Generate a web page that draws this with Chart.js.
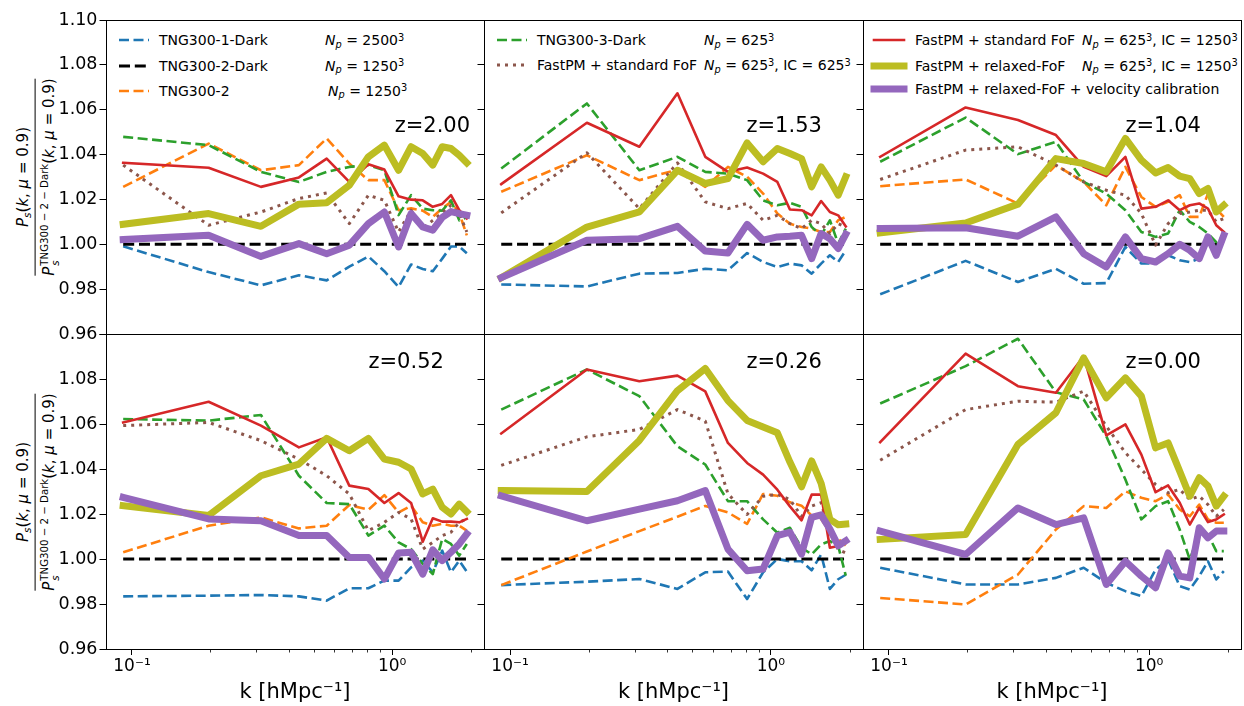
<!DOCTYPE html>
<html>
<head>
<meta charset="utf-8">
<script src="https://cdn.jsdelivr.net/npm/chart.js@4/dist/chart.umd.min.js"></script>
<style>
  html, body { margin: 0; padding: 0; background: #fff; overflow: hidden; }
  body { width: 1244px; height: 706px; position: relative; font-family: "DejaVu Sans", sans-serif; color: #000; }
  canvas.panel { position: absolute; left: 0; top: 0; pointer-events: none; }
  .lg { position: absolute; font-size: 14px; line-height: 14px; white-space: nowrap; }
  .ls { position: absolute; overflow: visible; }
  .sb { font-size: 0.7em; position: relative; top: 0.28em; }
  .sp { font-size: 0.7em; position: relative; top: -0.45em; }
  .zl { position: absolute; font-size: 21px; line-height: 21px; white-space: nowrap; }
  .ylab { position: absolute; transform: translate(-50%, -50%) rotate(-90deg); font-size: 15px; white-space: nowrap; }
  .frac { display: flex; flex-direction: column; align-items: center; }
  .num { padding-bottom: 2px; line-height: 17px; }
  .den { border-top: 1.4px solid #000; padding-top: 1px; line-height: 24px; }
  .ss { display: inline-flex; flex-direction: column; vertical-align: 0.55em; font-size: 0.68em; line-height: 1.05em; margin-left: 1px; }
</style>
</head>
<body>

<!-- legends -->
<svg class="ls" style="left:114px;top:34px" width="40" height="12"><line x1="5" y1="6" x2="35" y2="6" stroke="#1f77b4" stroke-width="2.6" stroke-dasharray="10 4.5"/></svg>
<div class="lg" style="left:159px;top:33px">TNG300-1-Dark</div>
<div class="lg" style="left:325px;top:33px"><i>N</i><span class="sb"><i>p</i></span> = 2500<span class="sp">3</span></div>
<svg class="ls" style="left:114px;top:59.5px" width="40" height="12"><line x1="5" y1="6" x2="35" y2="6" stroke="#000" stroke-width="3" stroke-dasharray="11 4.8"/></svg>
<div class="lg" style="left:159px;top:58.5px">TNG300-2-Dark</div>
<div class="lg" style="left:325px;top:58.5px"><i>N</i><span class="sb"><i>p</i></span> = 1250<span class="sp">3</span></div>
<svg class="ls" style="left:114px;top:84.5px" width="40" height="12"><line x1="5" y1="6" x2="35" y2="6" stroke="#ff7f0e" stroke-width="2.6" stroke-dasharray="10 4.5"/></svg>
<div class="lg" style="left:159px;top:83.5px">TNG300-2</div>
<div class="lg" style="left:328px;top:83.5px"><i>N</i><span class="sb"><i>p</i></span> = 1250<span class="sp">3</span></div>

<svg class="ls" style="left:492px;top:34px" width="40" height="12"><line x1="5" y1="6" x2="35" y2="6" stroke="#2ca02c" stroke-width="2.6" stroke-dasharray="10 4.5"/></svg>
<div class="lg" style="left:537px;top:33px">TNG300-3-Dark</div>
<div class="lg" style="left:704px;top:33px"><i>N</i><span class="sb"><i>p</i></span> = 625<span class="sp">3</span></div>
<svg class="ls" style="left:492px;top:59px" width="40" height="12"><line x1="5" y1="6" x2="35" y2="6" stroke="#8c564b" stroke-width="3" stroke-dasharray="3 5"/></svg>
<div class="lg" style="left:537px;top:58px">FastPM + standard FoF</div>
<div class="lg" style="left:704px;top:58px"><i>N</i><span class="sb"><i>p</i></span> = 625<span class="sp">3</span>, IC = 625<span class="sp">3</span></div>

<svg class="ls" style="left:869px;top:34px" width="40" height="12"><line x1="5" y1="6" x2="35" y2="6" stroke="#d62728" stroke-width="2.6" stroke-linecap="square"/></svg>
<div class="lg" style="left:915px;top:33px">FastPM + standard FoF</div>
<div class="lg" style="left:1082px;top:33px"><i>N</i><span class="sb"><i>p</i></span> = 625<span class="sp">3</span>, IC = 1250<span class="sp">3</span></div>
<svg class="ls" style="left:869px;top:59.5px" width="40" height="12"><line x1="5" y1="6" x2="35" y2="6" stroke="#bcbd22" stroke-width="7" stroke-linecap="square"/></svg>
<div class="lg" style="left:915px;top:58.5px">FastPM + relaxed-FoF</div>
<div class="lg" style="left:1082px;top:58.5px"><i>N</i><span class="sb"><i>p</i></span> = 625<span class="sp">3</span>, IC = 1250<span class="sp">3</span></div>
<svg class="ls" style="left:869px;top:83px" width="40" height="12"><line x1="5" y1="6" x2="35" y2="6" stroke="#9467bd" stroke-width="7" stroke-linecap="square"/></svg>
<div class="lg" style="left:915px;top:82px">FastPM + relaxed-FoF + velocity calibration</div>

<!-- y-axis titles -->
<div class="ylab" style="left:38px;top:177px">
  <div class="frac">
    <div class="num"><i>P</i><span class="sb"><i>s</i></span>(<i>k</i>, <i>μ</i> = 0.9)</div>
    <div class="den"><i>P</i><span class="ss"><span>TNG300 − 2 − Dark</span><span><i>s</i></span></span>(<i>k</i>, <i>μ</i> = 0.9)</div>
  </div>
</div>
<div class="ylab" style="left:38px;top:492px">
  <div class="frac">
    <div class="num"><i>P</i><span class="sb"><i>s</i></span>(<i>k</i>, <i>μ</i> = 0.9)</div>
    <div class="den"><i>P</i><span class="ss"><span>TNG300 − 2 − Dark</span><span><i>s</i></span></span>(<i>k</i>, <i>μ</i> = 0.9)</div>
  </div>
</div>

<script>
// wavenumber bins [h/Mpc]
const kBins = [0.0925, 0.197, 0.313, 0.438, 0.560, 0.684, 0.810, 0.933, 1.058, 1.182, 1.310, 1.432, 1.557, 1.682, 1.810, 1.935];
const yTickValues = [0.96, 0.98, 1.00, 1.02, 1.04, 1.06, 1.08, 1.10];
const xMajorTicks = [0.1, 1];
const xMinorTicks = [0.2, 0.3, 0.4, 0.5, 0.6, 0.7, 0.8, 0.9, 2];
const redshiftLabels = ['z=2.00', 'z=1.53', 'z=1.04', 'z=0.52', 'z=0.26', 'z=0.00'];

// TNG300-2-Dark divided by itself
const referenceRatio = [1, 1, 1, 1, 1, 1, 1, 1, 1, 1, 1, 1, 1, 1, 1, 1];

// z = 2.00
const tng1Dark_z200 = [0.9991, 0.9876, 0.9817, 0.9862, 0.9839, 0.9900, 0.9946, 0.9880, 0.9810, 0.9910, 0.9890, 0.9880, 0.9936, 0.9990, 0.9990, 0.9960];
const tng2_z200     = [1.0256, 1.0449, 1.0330, 1.0353, 1.0472, 1.0360, 1.0286, 1.0286, 1.0152, 1.0160, 1.0150, 1.0122, 1.0160, 1.0189, 1.0140, 1.0040];
const tng3Dark_z200 = [1.0479, 1.0442, 1.0323, 1.0278, 1.0323, 1.0345, 1.0353, 1.0330, 1.0130, 1.0219, 1.0159, 1.0152, 1.0150, 1.0196, 1.0107, 1.0120];
const fofIC625_z200 = [1.0353, 1.0085, 1.0144, 1.0204, 1.0229, 1.0092, 1.0219, 1.0196, 1.0055, 1.0152, 1.0070, 1.0107, 1.0140, 1.0174, 1.0137, 1.0055];
const fofIC1250_z200 = [1.0363, 1.0341, 1.0256, 1.0298, 1.0382, 1.0278, 1.0357, 1.0333, 1.0214, 1.0199, 1.0196, 1.0167, 1.0180, 1.0219, 1.0152, 1.0115];
const relaxed_z200  = [1.0089, 1.0137, 1.0080, 1.0179, 1.0185, 1.0263, 1.0390, 1.0442, 1.0330, 1.0435, 1.0405, 1.0353, 1.0435, 1.0427, 1.0397, 1.0363];
const velcal_z200   = [1.0021, 1.0040, 0.9946, 1.0003, 0.9958, 0.9996, 1.0092, 1.0144, 0.9988, 1.0137, 1.0077, 1.0063, 1.0120, 1.0146, 1.0137, 1.0130];

// z = 1.53
const tng1Dark_z153 = [0.9821, 0.9812, 0.9869, 0.9872, 0.9891, 0.9884, 0.9961, 0.9921, 0.9899, 0.9914, 0.9906, 0.9869, 0.9914, 0.9951, 0.9921, 0.9973];
const tng2_z153     = [1.0234, 1.0397, 1.0286, 1.0333, 1.0256, 1.0345, 1.0301, 1.0226, 1.0137, 1.0092, 1.0077, 1.0070, 1.0055, 1.0055, 1.0107, 1.0122];
const tng3Dark_z153 = [1.0338, 1.0628, 1.0330, 1.0390, 1.0323, 1.0315, 1.0286, 1.0196, 1.0174, 1.0185, 1.0167, 1.0077, 1.0040, 1.0107, 1.0003, 1.0070];
const fofIC625_z153 = [1.0140, 1.0408, 1.0159, 1.0363, 1.0189, 1.0159, 1.0182, 1.0107, 1.0129, 1.0092, 1.0070, 1.0107, 1.0092, 1.0048, 1.0092, 1.0077];
const fofIC1250_z153 = [1.0268, 1.0542, 1.0435, 1.0673, 1.0390, 1.0323, 1.0342, 1.0315, 1.0278, 1.0155, 1.0152, 1.0129, 1.0193, 1.0144, 1.0129, 1.0080];
const relaxed_z153  = [0.9851, 1.0077, 1.0144, 1.0330, 1.0271, 1.0293, 1.0452, 1.0368, 1.0427, 1.0405, 1.0382, 1.0256, 1.0345, 1.0286, 1.0219, 1.0301];
const velcal_z153   = [0.9851, 1.0018, 1.0025, 1.0080, 0.9970, 0.9961, 1.0089, 1.0018, 1.0033, 1.0036, 1.0040, 0.9936, 1.0048, 1.0025, 0.9981, 1.0045];

// z = 1.04
const tng1Dark_z104 = [0.9777, 0.9926, 0.9832, 0.9891, 0.9824, 0.9827, 0.9988, 0.9914, 0.9914, 0.9951, 0.9929, 0.9921, 0.9936, 1.0033, 0.9988, 1.0033];
const tng2_z104     = [1.0259, 1.0289, 1.0182, 1.0353, 1.0278, 1.0174, 1.0345, 1.0211, 1.0167, 1.0189, 1.0219, 1.0122, 1.0122, 1.0226, 1.0159, 1.0122];
const tng3Dark_z104 = [1.0368, 1.0565, 1.0402, 1.0457, 1.0278, 1.0226, 1.0152, 1.0055, 1.0033, 1.0048, 1.0152, 1.0100, 1.0077, 1.0048, 1.0010, 1.0040];
const fofIC625_z104 = [1.0289, 1.0420, 1.0435, 1.0353, 1.0278, 1.0241, 1.0219, 1.0137, 0.9996, 1.0092, 1.0137, 1.0144, 1.0152, 1.0152, 1.0100, 1.0115];
const fofIC1250_z104 = [1.0390, 1.0610, 1.0554, 1.0487, 1.0345, 1.0304, 1.0390, 1.0159, 1.0167, 1.0196, 1.0152, 1.0174, 1.0182, 1.0159, 1.0085, 1.0055];
const relaxed_z104  = [1.0051, 1.0095, 1.0179, 1.0382, 1.0360, 1.0323, 1.0472, 1.0375, 1.0318, 1.0342, 1.0304, 1.0293, 1.0226, 1.0249, 1.0144, 1.0174];
const velcal_z104   = [1.0070, 1.0074, 1.0036, 1.0122, 0.9958, 0.9899, 1.0033, 0.9936, 0.9921, 0.9958, 1.0000, 0.9973, 0.9936, 1.0033, 0.9951, 1.0040];

// z = 0.52
const tng1Dark_z052 = [0.9834, 0.9837, 0.9840, 0.9834, 0.9815, 0.9870, 0.9870, 0.9904, 0.9904, 0.9963, 0.9993, 0.9941, 1.0037, 0.9941, 0.9993, 0.9944];
const tng2_z052     = [1.0030, 1.0148, 1.0185, 1.0136, 1.0148, 1.0240, 1.0219, 1.0284, 1.0207, 1.0237, 1.0163, 1.0148, 1.0156, 1.0148, 1.0148, 1.0126];
const tng3Dark_z052 = [1.0622, 1.0615, 1.0640, 1.0370, 1.0249, 1.0244, 1.0104, 1.0148, 1.0074, 1.0044, 0.9978, 0.9933, 1.0089, 1.0067, 1.0015, 1.0067];
const fofIC625_z052 = [1.0593, 1.0607, 1.0526, 1.0444, 1.0370, 1.0289, 1.0126, 1.0163, 1.0207, 1.0178, 1.0044, 1.0074, 1.0104, 1.0119, 1.0163, 1.0178];
const fofIC1250_z052 = [1.0607, 1.0699, 1.0593, 1.0496, 1.0541, 1.0326, 1.0311, 1.0249, 1.0293, 1.0249, 1.0077, 1.0181, 1.0166, 1.0166, 1.0163, 1.0178];
const relaxed_z052  = [1.0237, 1.0193, 1.0370, 1.0422, 1.0536, 1.0481, 1.0536, 1.0444, 1.0430, 1.0400, 1.0289, 1.0311, 1.0230, 1.0200, 1.0244, 1.0210];
const velcal_z052   = [1.0274, 1.0178, 1.0170, 1.0104, 1.0104, 1.0007, 1.0007, 0.9911, 1.0027, 1.0030, 0.9933, 1.0041, 0.9993, 1.0030, 1.0067, 1.0111];

// z = 0.26
const tng1Dark_z026 = [0.9884, 0.9899, 0.9911, 0.9867, 0.9941, 0.9944, 0.9822, 0.9941, 1.0000, 0.9990, 0.9990, 0.9950, 1.0020, 0.9867, 0.9910, 0.9930];
const tng2_z026     = [0.9884, 1.0033, 1.0124, 1.0188, 1.0236, 1.0207, 1.0156, 1.0289, 1.0281, 1.0252, 1.0237, 1.0193, 1.0178, 1.0119, 1.0089, 1.0060];
const tng3Dark_z026 = [1.0664, 1.0842, 1.0724, 1.0501, 1.0420, 1.0257, 1.0257, 1.0176, 1.0117, 1.0139, 1.0050, 1.0021, 1.0065, 1.0080, 1.0058, 0.9926];
const fofIC625_z026 = [1.0416, 1.0543, 1.0576, 1.0664, 1.0613, 1.0290, 1.0198, 1.0279, 1.0287, 1.0264, 1.0190, 1.0235, 1.0250, 1.0116, 1.0042, 1.0027];
const fofIC1250_z026 = [1.0558, 1.0842, 1.0790, 1.0815, 1.0745, 1.0516, 1.0427, 1.0375, 1.0308, 1.0234, 1.0172, 1.0286, 1.0286, 1.0050, 1.0058, 1.0080];
const relaxed_z026  = [1.0304, 1.0300, 1.0527, 1.0748, 1.0847, 1.0704, 1.0616, 1.0587, 1.0561, 1.0431, 1.0321, 1.0436, 1.0336, 1.0176, 1.0152, 1.0155];
const velcal_z026   = [1.0281, 1.0170, 1.0222, 1.0259, 1.0304, 1.0044, 0.9948, 0.9956, 1.0104, 1.0119, 1.0022, 1.0185, 1.0196, 1.0133, 1.0059, 1.0081];

// z = 0.00
const tng1Dark_z000 = [0.9961, 0.9887, 0.9887, 0.9916, 0.9961, 0.9894, 0.9857, 0.9835, 0.9953, 0.9998, 0.9879, 0.9864, 0.9924, 0.9990, 0.9909, 0.9946];
const tng2_z000     = [0.9827, 0.9798, 0.9931, 1.0131, 1.0235, 1.0227, 1.0301, 1.0272, 1.0257, 1.0287, 1.0220, 1.0190, 1.0242, 1.0176, 1.0161, 1.0161];
const tng3Dark_z000 = [1.0691, 1.0857, 1.0979, 1.0741, 1.0709, 1.0546, 1.0353, 1.0176, 1.0235, 1.0257, 1.0131, 0.9998, 1.0116, 1.0110, 1.0035, 1.0035];
const fofIC625_z000 = [1.0439, 1.0664, 1.0701, 1.0697, 1.0746, 1.0590, 1.0472, 1.0398, 1.0331, 1.0294, 1.0309, 1.0264, 1.0279, 1.0242, 1.0190, 1.0220];
const fofIC1250_z000 = [1.0519, 1.0913, 1.0768, 1.0739, 1.0901, 1.0549, 1.0598, 1.0464, 1.0297, 1.0327, 1.0250, 1.0153, 1.0227, 1.0164, 1.0176, 1.0198];
const relaxed_z000  = [1.0087, 1.0109, 1.0509, 1.0650, 1.0894, 1.0716, 1.0805, 1.0724, 1.0494, 1.0516, 1.0390, 1.0279, 1.0361, 1.0324, 1.0235, 1.0279];
const velcal_z000   = [1.0124, 1.0020, 1.0227, 1.0153, 1.0183, 0.9887, 0.9990, 0.9924, 0.9872, 1.0027, 0.9924, 0.9916, 1.0139, 1.0094, 1.0124, 1.0124];

// line styles, in drawing order (last one on top)
const seriesStyles = [
  { name: 'TNG300-1-Dark', color: '#1f77b4', width: 2.6, dash: [10, 4.5], cap: 'butt' },
  { name: 'TNG300-2-Dark', color: '#000000', width: 3, dash: [11, 4.8], cap: 'butt' },
  { name: 'TNG300-2', color: '#ff7f0e', width: 2.6, dash: [10, 4.5], cap: 'butt' },
  { name: 'TNG300-3-Dark', color: '#2ca02c', width: 2.6, dash: [10, 4.5], cap: 'butt' },
  { name: 'FastPM + standard FoF, IC 625^3', color: '#8c564b', width: 3, dash: [3, 5], cap: 'butt' },
  { name: 'FastPM + standard FoF, IC 1250^3', color: '#d62728', width: 2.6, dash: [], cap: 'square' },
  { name: 'FastPM + relaxed-FoF', color: '#bcbd22', width: 7, dash: [], cap: 'square' },
  { name: 'FastPM + relaxed-FoF + velocity calibration', color: '#9467bd', width: 7, dash: [], cap: 'square' }
];

const panelSeries = [
  [tng1Dark_z200, referenceRatio, tng2_z200, tng3Dark_z200, fofIC625_z200, fofIC1250_z200, relaxed_z200, velcal_z200],
  [tng1Dark_z153, referenceRatio, tng2_z153, tng3Dark_z153, fofIC625_z153, fofIC1250_z153, relaxed_z153, velcal_z153],
  [tng1Dark_z104, referenceRatio, tng2_z104, tng3Dark_z104, fofIC625_z104, fofIC1250_z104, relaxed_z104, velcal_z104],
  [tng1Dark_z052, referenceRatio, tng2_z052, tng3Dark_z052, fofIC625_z052, fofIC1250_z052, relaxed_z052, velcal_z052],
  [tng1Dark_z026, referenceRatio, tng2_z026, tng3Dark_z026, fofIC625_z026, fofIC1250_z026, relaxed_z026, velcal_z026],
  [tng1Dark_z000, referenceRatio, tng2_z000, tng3Dark_z000, fofIC625_z000, fofIC1250_z000, relaxed_z000, velcal_z000]
];

// panel grid geometry (plot-area edges in page pixels)
const colEdges = [106, 484, 863, 1241];
const rowEdges = [20, 334, 649];
const X_MIN = 0.07945, X_MAX = 2.253;
const Y_MIN = 0.96, Y_MAX = 1.10;
const CANVAS_W = 1300, CANVAS_H = 760;
const Y_AXIS_W = 70, X_AXIS_H = 56;
const FONT = 'DejaVu Sans';

// box around each plot area, plus short minor ticks on the k axis
const framePlugin = {
  id: 'frame',
  afterDraw(chart, args, opts) {
    const { ctx, chartArea: a } = chart;
    ctx.save();
    ctx.strokeStyle = '#000';
    ctx.lineWidth = 1;
    ctx.strokeRect(Math.round(a.left) + 0.5, Math.round(a.top) + 0.5,
      Math.round(a.right - a.left), Math.round(a.bottom - a.top));
    if (opts.minorTicks) {
      const xs = chart.scales.x;
      ctx.lineWidth = 0.8;
      ctx.beginPath();
      xMinorTicks.forEach(v => {
        const px = Math.round(xs.getPixelForValue(v)) + 0.5;
        ctx.moveTo(px, a.bottom);
        ctx.lineTo(px, a.bottom + 3.5);
      });
      ctx.stroke();
    }
    ctx.restore();
  }
};

function buildPanel(index) {
  const row = Math.floor(index / 3), col = index % 3;
  const L = colEdges[col], R = colEdges[col + 1];
  const T = rowEdges[row], B = rowEdges[row + 1];
  const bottomRow = row === 1;
  const xh = bottomRow ? X_AXIS_H : 0;

  const canvas = document.createElement('canvas');
  canvas.className = 'panel';
  canvas.width = CANVAS_W; canvas.height = CANVAS_H;
  canvas.style.width = CANVAS_W + 'px'; canvas.style.height = CANVAS_H + 'px';
  document.body.appendChild(canvas);

  const values = panelSeries[index];
  const n = seriesStyles.length;
  const datasets = seriesStyles.map((s, i) => ({
    label: s.name,
    data: kBins.map((k, j) => ({ x: k, y: values[i][j] })),
    borderColor: s.color,
    backgroundColor: s.color,
    borderWidth: s.width,
    borderDash: s.dash,
    borderCapStyle: s.cap,
    borderJoinStyle: 'round',
    pointRadius: 0,
    tension: 0,
    fill: false,
    order: n - i
  }));

  new Chart(canvas, {
    type: 'line',
    data: { datasets },
    options: {
      responsive: false,
      animation: false,
      devicePixelRatio: 1,
      events: [],
      layout: { padding: { left: L - Y_AXIS_W, top: T, right: CANVAS_W - R, bottom: CANVAS_H - B - xh } },
      plugins: { legend: { display: false }, tooltip: { enabled: false }, frame: { minorTicks: bottomRow } },
      scales: {
        x: {
          type: 'logarithmic',
          min: X_MIN, max: X_MAX,
          display: bottomRow,
          afterFit: s => { s.height = xh; },
          afterBuildTicks: s => { s.ticks = xMajorTicks.map(v => ({ value: v, major: true })); },
          ticks: {
            autoSkip: false, maxRotation: 0, minRotation: 0, padding: 1.5,
            color: '#000', font: { family: FONT, size: 17 },
            callback: v => (Math.abs(v - 0.1) < 1e-9 ? '10\u207B\u00B9' : (Math.abs(v - 1) < 1e-9 ? '10\u2070' : ''))
          },
          grid: { drawOnChartArea: false, drawTicks: true, tickLength: 6, tickColor: '#000', tickWidth: 1 },
          border: { display: false },
          title: { display: true, text: 'k [hMpc\u207B\u00B9]', color: '#000', font: { family: FONT, size: 21 }, padding: { top: 0, bottom: 0 } }
        },
        y: {
          type: 'linear',
          min: Y_MIN, max: Y_MAX,
          afterFit: s => { s.width = Y_AXIS_W; },
          afterBuildTicks: s => { s.ticks = yTickValues.map(v => ({ value: v })); },
          ticks: {
            display: col === 0, padding: 2, color: '#000', font: { family: FONT, size: 17.5 },
            callback: v => (bottomRow && v > 1.095 ? '' : v.toFixed(2))
          },
          grid: { drawOnChartArea: false, drawTicks: true, tickLength: 6.5, tickColor: '#000', tickWidth: 1 },
          border: { display: false }
        }
      }
    },
    plugins: [framePlugin]
  });

  // redshift tag
  const tag = document.createElement('div');
  tag.className = 'zl';
  tag.textContent = redshiftLabels[index];
  tag.style.left = (index === 0 ? 394.7 : L + 262.5) + 'px';
  tag.style.top = (bottomRow ? 350.5 : 114.5) + 'px';
  document.body.appendChild(tag);
}

for (let i = 0; i < 6; i++) buildPanel(i);
</script>
</body>
</html>
